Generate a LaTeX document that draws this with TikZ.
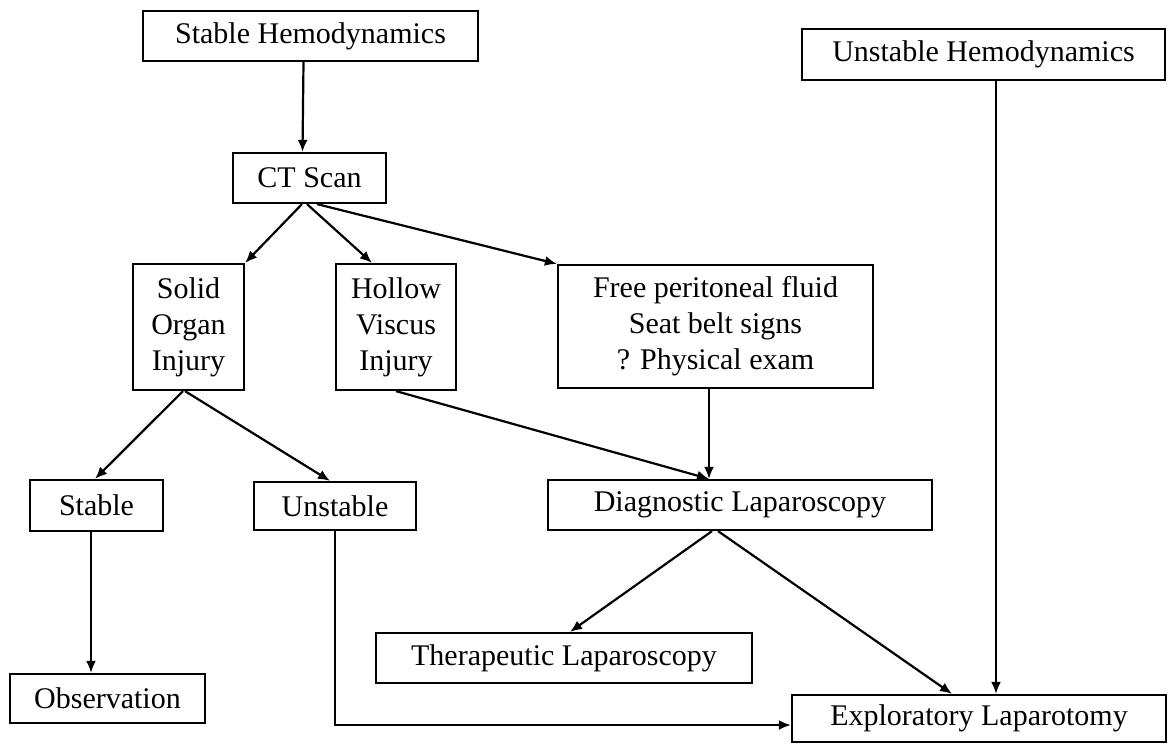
\documentclass[tikz,border=0pt]{standalone}
\usepackage{fontspec}
\setmainfont{Liberation Serif}
\usepackage{tikz}
\usetikzlibrary{arrows.meta}
\usetikzlibrary{positioning}

\tikzset{
  box/.style={draw, line width=1.1pt, inner sep=0pt, align=center,
    font=\fontsize{15}{18}\selectfont},
  arr/.style={line width=1.1pt, -{Latex[length=6pt,width=5pt]}},
}

\begin{document}
\begin{tikzpicture}[x=0.5pt,y=-0.5pt]

  % frame of the picture
  \useasboundingbox (0,0) rectangle (1172,745);

  % top row
  \node[box, minimum width=167.5pt, minimum height=25pt] (sh) at (310.5,36)
    {Stable Hemodynamics};
  \node[box, minimum width=181.5pt, minimum height=25.5pt] (uh) at (983.5,54.5)
    {Unstable Hemodynamics};
  \node[box, minimum width=76.5pt, minimum height=25pt] (ct) at (309.5,178)
    {CT Scan};

  % findings on the CT scan
  \node[box, minimum width=55.5pt, minimum height=63pt] (solid) at (188.5,327)
    {Solid\\Organ\\Injury};
  \node[box, minimum width=60pt, minimum height=63pt] (hollow) at (396,327)
    {Hollow\\Viscus\\Injury};
  \node[box, minimum width=157.5pt, minimum height=61.5pt] (free) at (715.5,326.5)
    {Free peritoneal fluid\\Seat belt signs\\? Physical exam};

  % middle row
  \node[box, minimum width=66.5pt, minimum height=25.5pt] (stable) at (96.5,505.5)
    {Stable};
  \node[box, minimum width=81pt, minimum height=24pt] (unstable) at (335,506)
    {Unstable};
  \node[box, minimum width=192pt, minimum height=25pt] (diag) at (740,505)
    {Diagnostic Laparoscopy};

  % outcomes
  \node[box, minimum width=188pt, minimum height=25pt] (ther) at (564,658)
    {Therapeutic Laparoscopy};
  \node[box, minimum width=97.5pt, minimum height=24.5pt] (obs) at (107.5,698.5)
    {Observation};
  \node[box, minimum width=187pt, minimum height=23.5pt] (expl) at (979,718.5)
    {Exploratory Laparotomy};

  % connectors
  \draw[arr] ([xshift=-3.5pt]sh.south) -- ([xshift=-3.5pt]ct.north);
  \draw[arr] ([xshift=-3.75pt]ct.south) -- (solid.north east);
  \draw[arr] ([xshift=-1.25pt]ct.south) -- ([xshift=-12pt]hollow.north);
  \draw[arr] ([xshift=3.75pt]ct.south) -- (free.north west);

  \draw[arr] ([xshift=-2.75pt]solid.south) -- ([xshift=-0.75pt]stable.north);
  \draw[arr] ([xshift=-1.75pt]solid.south) -- ([xshift=-2.5pt]unstable.north);
  \draw[arr] (hollow.south) -- ([xshift=-15.5pt]diag.north);
  \draw[arr] ([xshift=-3.25pt]free.south) -- ([xshift=-15.5pt]diag.north);

  \draw[arr] ([xshift=-14pt]diag.south) -- ([xshift=3pt]ther.north);
  \draw[arr] ([xshift=-11pt]diag.south) -- ([xshift=-13.5pt]expl.north);
  \draw[arr] ([xshift=6.25pt]uh.south) -- ([xshift=8.5pt]expl.north);
  \draw[arr] (unstable.south) |- ([yshift=-3.25pt]expl.west);
  \draw[arr] ([xshift=-2.75pt]stable.south) -- ([xshift=-8.25pt]obs.north);

\end{tikzpicture}
\end{document}
